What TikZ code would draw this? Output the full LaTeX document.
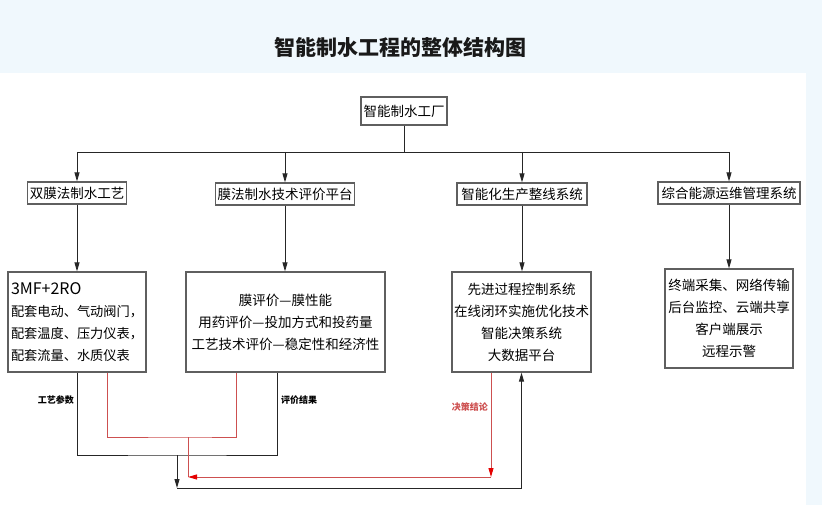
\documentclass[tikz,border=0pt]{standalone}
\usepackage{fontspec}
\setmainfont{Noto Sans CJK SC}
\usetikzlibrary{arrows.meta,calc,positioning}
\definecolor{bgblue}{RGB}{240,248,253}
\definecolor{boxgray}{RGB}{95,95,95}
\definecolor{lnred}{RGB}{205,80,80}

\begin{document}
\begin{tikzpicture}[x=1pt,y=-1pt,>={Triangle[width=5pt,length=9pt]},
  box/.style={draw=boxgray,line width=1.2pt,inner sep=2pt,font=\fontsize{13.5}{16}\selectfont},
  bigbox/.style={box,minimum height=100pt,align=center,font=\fontsize{13.5}{22}\selectfont},
  link/.style={draw=black!85,line width=0.9pt},
  redlink/.style={draw=lnred,line width=0.9pt,>={Triangle[width=5pt,length=9pt,color=red!90!black]}},
  tag/.style={font=\fontsize{9}{10}\selectfont\bfseries,inner sep=1pt}]
  \fill[bgblue] (0,0) rectangle (822,73);
  \fill[bgblue] (806,73) rectangle (822,505);
  \useasboundingbox (0,0) rectangle (826,505);
  \node[font=\fontsize{21}{24}\selectfont\bfseries,text=black!90] (title) at (400,47) {智能制水工程的整体结构图};
  \node[box,minimum width=86pt,minimum height=28pt]  (plant)  at (404,111)   {智能制水工厂};
  \coordinate (bus) at (404,152);
  \node[box,minimum width=99pt,minimum height=22pt]  (dual)   at (77,193)    {双膜法制水工艺};
  \node[box,minimum width=138pt,minimum height=22pt] (eval)   at (285,194)   {膜法制水技术评价平台};
  \node[box,minimum width=130pt,minimum height=22pt] (prod)   at (522,194)   {智能化生产整线系统};
  \node[box,minimum width=142pt,minimum height=22pt] (energy) at (729,193)   {综合能源运维管理系统};
  \node[bigbox,minimum width=138pt,align=left,font=\fontsize{13.2}{22}\selectfont] (proc) at (77,322) {{\fontsize{16}{16}\selectfont 3MF+2RO}\\配套电动、气动阀门，\\配套温度、压力仪表，\\配套流量、水质仪表};
  \node[bigbox,minimum width=199pt]                 (judge)  at (285.5,322) {膜评价—膜性能\\用药评价—投加方式和投药量\\工艺技术评价—稳定性和经济性};
  \node[bigbox,minimum width=139pt]                 (ctrl)   at (521.5,322) {先进过程控制系统\\在线闭环实施优化技术\\智能决策系统\\大数据平台};
  \node[bigbox,minimum width=128pt,minimum height=99pt] (ops) at (729,318.5) {终端采集、网络传输\\后台监控、云端共享\\客户端展示\\远程示警};
  \draw[link] (plant) -- (plant |- bus);
  \draw[link] (dual |- bus) -- (energy |- bus);
  \foreach \n in {dual,eval,prod,energy}
    \draw[link,->] (\n |- bus) -- (\n.north);
  \foreach \a/\b in {dual/proc,eval/judge,prod/ctrl,energy/ops}
    \draw[link,->] (\a.south) -- (\a.south |- \b.north);
  \coordinate (pout) at ($(judge.south)+(-8.5,0)$);
  \coordinate (mix)  at (177,455);
  \coordinate (low)  at (177,488);
  \draw[link] (proc.south) |- (mix) -| (pout);
  \draw[link,->] (mix) -- (low);
  \draw[link,->] (low) -| (ctrl.south);
  \node[tag,left]  (parm) at (75,400)  {工艺参数};
  \node[tag,right] (res)  at (280,400) {评价结果};
  \coordinate (rA)   at ($(proc.south)+(30,0)$);
  \coordinate (rB)   at ($(judge.south)+(-49.5,0)$);
  \coordinate (rmix) at (188,437);
  \coordinate (rlow) at (188,477);
  \coordinate (rC)   at ($(ctrl.south)+(-30.5,0)$);
  \draw[redlink] (rA) |- (rmix) -| (rB);
  \draw[redlink] (rmix) -- (rlow);
  \draw[redlink,->] (rC) -- (rC |- rlow);
  \draw[redlink,->] (rC |- rlow) -- (rlow);
  \node[tag,left,text=lnred] (dec) at (489,407) {决策结论};
\end{tikzpicture}
\end{document}
